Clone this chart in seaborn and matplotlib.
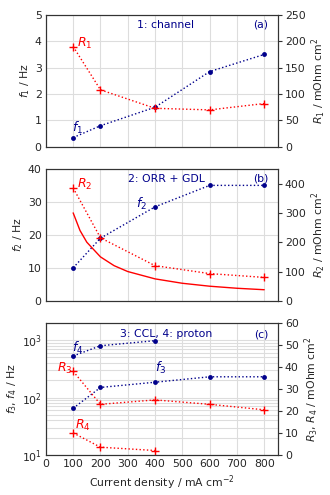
import numpy as np
import pandas as pd
import seaborn as sns
from matplotlib import pyplot as plt

# ===== data =====
current = [100, 200, 400, 600, 800]
current_low = [100, 200, 400]

f1 = [0.35, 0.8, 1.5, 2.85, 3.5]
r1 = [190, 108, 73, 70, 82]

f2 = [10, 19, 28.5, 35, 35]
r2 = [385, 215, 120, 93, 80]
# solid red curve in panel (b), R axis units
curve_x = [100, 125, 150, 200, 250, 300, 400, 500, 600, 700, 800]
curve_r = [300, 240, 200, 150, 120, 100, 75, 60, 50, 43, 38]

f3 = [65, 150, 185, 230, 230]
r3 = [38, 23, 25, 23, 20.5]
f4 = [530, 800, 980]
r4 = [10, 3.5, 2]

navy = '#00008b'
red = '#ff0000'

sns.set_style('ticks')
plt.rcParams['font.family'] = ['DejaVu Sans']
plt.rcParams['font.size'] = 7.8
plt.rcParams['mathtext.fontset'] = 'dejavusans'

fig, axes = plt.subplots(3, 1, figsize=(3.3, 4.95), dpi=100, sharex=True)
fig.subplots_adjust(left=0.139, right=0.842, top=0.97, bottom=0.081, hspace=0.167)


def f_line(ax, x, y):
    sns.lineplot(x=x, y=y, ax=ax, color=navy, marker='o', markersize=3.5, markeredgewidth=0,
                 linestyle=':', linewidth=1)


def r_line(ax, x, y):
    sns.lineplot(x=x, y=y, ax=ax, color=red, marker='+', markersize=6, markeredgewidth=1,
                 markeredgecolor=red, linestyle=':', linewidth=1)


def style(ax, ax2):
    ax.grid(True, color='#dddddd', linewidth=0.8)
    ax.set_axisbelow(True)
    for a in (ax, ax2):
        for s in a.spines.values():
            s.set_color('#333333')
            s.set_linewidth(0.8)
    # main axes: no tick marks, twin axis: short ticks on the right
    ax.tick_params(which='both', length=0, pad=3)
    ax2.tick_params(axis='y', length=3, width=0.8, color='#333333', pad=2)
    ax.yaxis.labelpad = 2
    ax2.yaxis.labelpad = 3


# ==== panel (a) ====
ax = axes[0]
ax2 = ax.twinx()
f_line(ax, current, f1)
r_line(ax2, current, r1)
ax.set_ylim(0, 5)
ax2.set_ylim(0, 250)
ax.set_ylabel('$f_1$ / Hz')
ax2.set_ylabel('$R_1$ / mOhm cm$^2$')
ax.text(440, 4.62, '1: channel', color=navy, ha='center', va='center')
ax.text(815, 4.62, '(a)', color=navy, ha='right', va='center')
ax.text(97, 0.7, '$f_1$', color=navy, fontsize=9, va='center')
ax2.text(115, 195, '$R_1$', color=red, fontsize=9, va='center')
style(ax, ax2)

# ==== panel (b) ====
ax = axes[1]
ax2 = ax.twinx()
f_line(ax, current, f2)
r_line(ax2, current, r2)
sns.lineplot(x=curve_x, y=curve_r, ax=ax2, color=red, linewidth=1)
ax.set_ylim(0, 40)
ax2.set_ylim(0, 450)
ax2.set_yticks([0, 100, 200, 300, 400])
ax.set_ylabel('$f_2$ / Hz')
ax2.set_ylabel('$R_2$ / mOhm cm$^2$')
ax.text(440, 37, '2: ORR + GDL', color=navy, ha='center', va='center')
ax.text(815, 37, '(b)', color=navy, ha='right', va='center')
ax.text(330, 29.5, '$f_2$', color=navy, fontsize=9, va='center')
ax2.text(115, 397, '$R_2$', color=red, fontsize=9, va='center')
style(ax, ax2)

# ==== panel (c) ====
ax = axes[2]
ax2 = ax.twinx()
ax.set_yscale('log')
f_line(ax, current, f3)
f_line(ax, current_low, f4)
r_line(ax2, current, r3)
r_line(ax2, current_low, r4)
ax.set_ylim(10, 2000)
ax2.set_ylim(0, 60)
ax.set_ylabel('$f_3$, $f_4$ / Hz')
ax2.set_ylabel('$R_3$, $R_4$ / mOhm cm$^2$')
ax.text(440, 1260, '3: CCL, 4: proton', color=navy, ha='center', va='center')
ax.text(815, 1260, '(c)', color=navy, ha='right', va='center')
ax.text(97, 730, '$f_4$', color=navy, fontsize=9, va='center')
ax.text(400, 330, '$f_3$', color=navy, fontsize=9, va='center')
ax2.text(42, 39.5, '$R_3$', color=red, fontsize=9, va='center')
ax2.text(105, 13.2, '$R_4$', color=red, fontsize=9, va='center')
style(ax, ax2)
ax.grid(True, which='minor', axis='y', color='#dddddd', linewidth=0.8)
ax.set_xlabel('Current density / mA cm$^{-2}$', labelpad=3)

axes[2].set_xlim(0, 850)
axes[2].set_xticks(range(0, 801, 100))
for a in axes[:2]:
    a.tick_params(labelbottom=False)

plt.savefig('out.png', dpi=100)
plt.close()
